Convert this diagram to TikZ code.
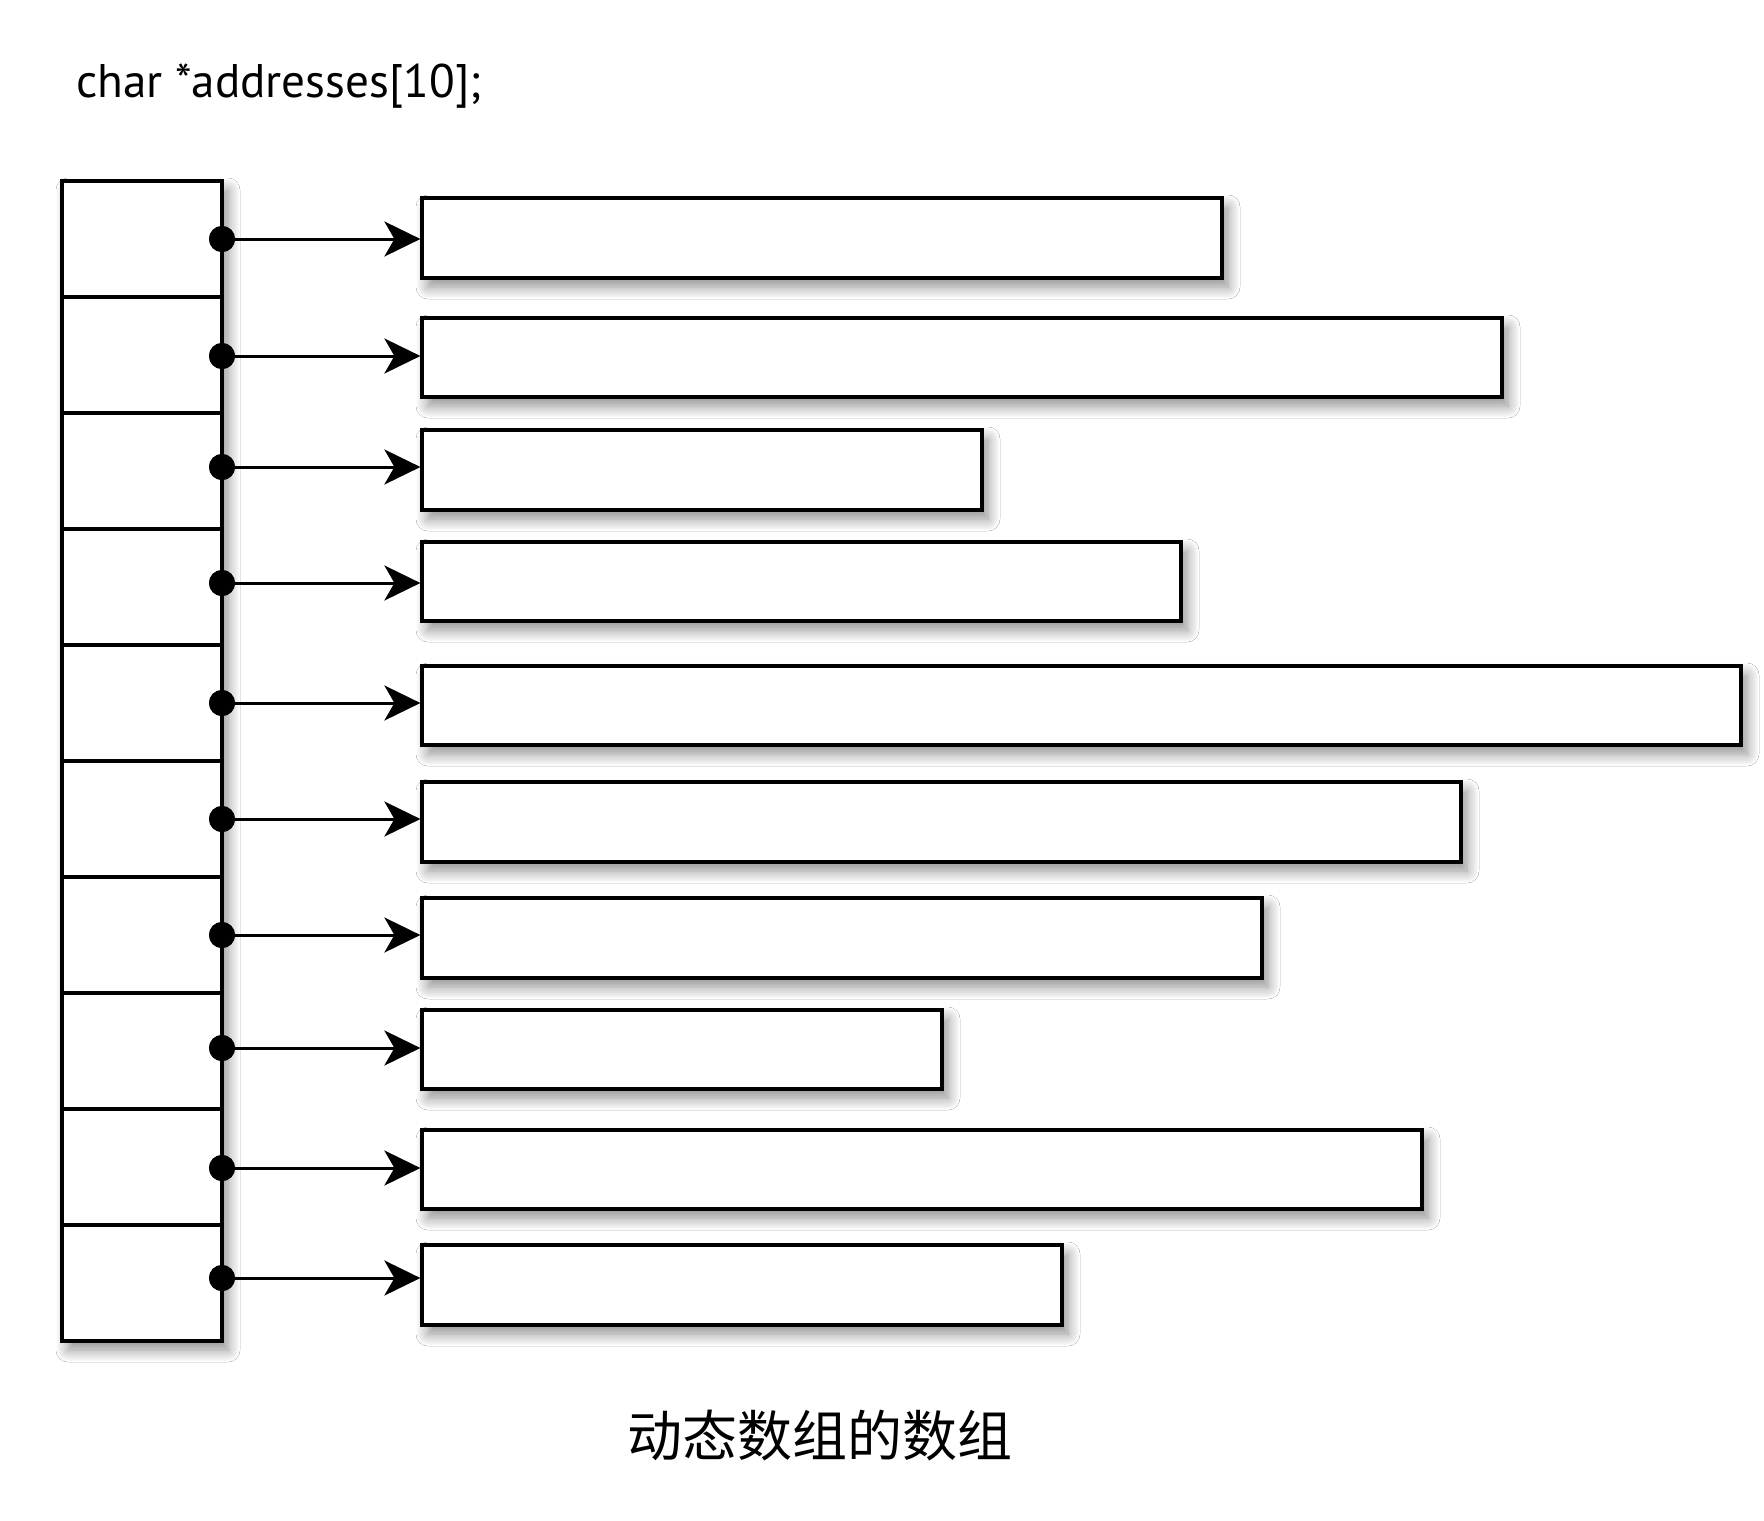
\documentclass[tikz,border=0pt]{standalone}
\usepackage{fontspec}
\setmainfont{PT Sans}
\newfontfamily\cjk{Noto Sans CJK SC}
\usetikzlibrary{arrows.meta,shadows.blur,fit}
\tikzset{
  shad/.style={blur shadow={shadow xshift=3pt, shadow yshift=-4.5pt, shadow blur radius=6pt, shadow blur steps=12, shadow opacity=45}},
  membox/.style={draw, line width=1.6pt, fill=white, inner sep=0pt, shad},
  cell/.style={draw, line width=1.6pt, inner sep=0pt},
  dotn/.style={circle, fill=black, minimum size=13pt, inner sep=0pt},
  ptr/.style={line width=1.5pt, -{Stealth[length=18pt,width=17.5pt,inset=5pt]}}
}
\begin{document}
\begin{tikzpicture}[x=0.5pt,y=-0.5pt]
\fill[white] (0,0) rectangle (1764,1520);
\useasboundingbox (0,0) rectangle (1764,1520);

\node[anchor=base west, inner sep=0pt] (code) at (76,98)
  {\resizebox{202.5pt}{!}{\fontsize{25pt}{30pt}\selectfont char *addresses[10];}};

% pointer array column
\node[membox, fit={(62,181) (222,1341)}] (col) {};
\foreach \i in {1,...,10}{
  \pgfmathsetmacro{\ya}{181+116*(\i-1)}
  \pgfmathsetmacro{\yb}{181+116*\i}
  \node[cell, fit={(62,\ya) (222,\yb)}] (c\i) {};
}

% dynamic arrays
\node[membox, fit={(422,198) (1222,278)}] (b1) {};
\node[membox, fit={(422,318) (1502,397)}] (b2) {};
\node[membox, fit={(422,430) (982,510)}] (b3) {};
\node[membox, fit={(422,542) (1181,621)}] (b4) {};
\node[membox, fit={(422,666) (1741,745)}] (b5) {};
\node[membox, fit={(422,782) (1461,862)}] (b6) {};
\node[membox, fit={(422,898) (1262,978)}] (b7) {};
\node[membox, fit={(422,1010) (942,1089)}] (b8) {};
\node[membox, fit={(422,1130) (1422,1209)}] (b9) {};
\node[membox, fit={(422,1245) (1062,1325)}] (b10) {};

% dots
\node[dotn] (d1) at (222,239) {};
\node[dotn] (d2) at (222,356) {};
\node[dotn] (d3) at (222,467) {};
\node[dotn] (d4) at (222,583) {};
\node[dotn] (d5) at (222,703) {};
\node[dotn] (d6) at (222,819) {};
\node[dotn] (d7) at (222,935) {};
\node[dotn] (d8) at (222,1048) {};
\node[dotn] (d9) at (222,1168) {};
\node[dotn] (d10) at (222,1278) {};

\foreach \i in {1,...,10}{
  \draw[ptr] (d\i.center) -- (d\i.center -| b\i.west);
  \fill (d\i) circle (6.5pt);
}

\node (cap) at (820,1436) {\cjk\fontsize{27.5pt}{33pt}\selectfont 动态数组的数组};
\end{tikzpicture}
\end{document}
